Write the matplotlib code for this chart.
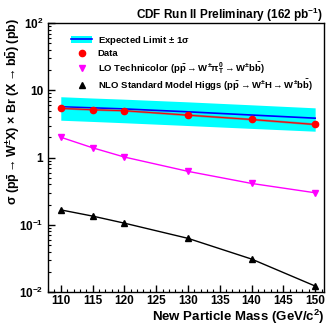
import matplotlib
matplotlib.use('Agg')
import matplotlib.pyplot as plt
from matplotlib.patches import Patch
from matplotlib.lines import Line2D
from matplotlib.ticker import FixedLocator, FixedFormatter, MultipleLocator, LogLocator, NullFormatter

plt.rcParams['font.family'] = ['Liberation Sans', 'DejaVu Sans']
plt.rcParams['font.weight'] = 'bold'
plt.rcParams['mathtext.fontset'] = 'custom'
plt.rcParams['mathtext.rm'] = 'Liberation Sans:bold'
plt.rcParams['mathtext.bf'] = 'Liberation Sans:bold'
plt.rcParams['mathtext.it'] = 'Liberation Sans:bold:italic'
plt.rcParams['mathtext.sf'] = 'Liberation Sans:bold'
plt.rcParams['mathtext.default'] = 'bf'

# masses (GeV/c^2)
mass = [110, 115, 120, 130, 140, 150]

# cross section x Br limits (pb)
data_limit = [5.4, 5.15, 4.98, 4.28, 3.69, 3.11]
exp_limit = [5.7, 5.5, 5.3, 4.8, 4.3, 3.86]
exp_up = [8.05, 7.7, 7.4, 6.75, 6.1, 5.5]
exp_down = [3.6, 3.45, 3.3, 3.0, 2.72, 2.47]

# theory predictions (pb)
technicolor = [2.01, 1.40, 1.02, 0.625, 0.413, 0.30]
higgs = [0.167, 0.135, 0.106, 0.063, 0.031, 0.0123]

ytick_vals = [0.01, 0.1, 1, 10, 100]
ytick_labels = ['$10^{-2}$', '$10^{-1}$', '1', '10', '$10^{2}$']

fig = plt.figure(figsize=(3.27, 3.26), dpi=100)
ax = fig.add_axes([0.147, 0.104, 0.844, 0.825])

ax.fill_between(mass, exp_down, exp_up, color='#00ffff', lw=0, zorder=1)
ax.plot(mass, exp_limit, color='#0000ff', lw=1.2, zorder=2)
ax.plot(mass, data_limit, color='#808080', lw=1.6, zorder=3)
ax.plot(mass, data_limit, color='#ff0000', lw=0.7, marker='o', ms=4.5, zorder=4)
ax.plot(mass, technicolor, color='#ff00ff', lw=1.0, marker='v', ms=4, zorder=4)
ax.plot(mass, higgs, color='black', lw=1.0, marker='^', ms=4, zorder=4)

ax.set_yscale('log')
ax.set_ylim(0.01, 100)
ax.set_xlim(108, 151.4)

ax.yaxis.set_major_locator(FixedLocator(ytick_vals))
ax.yaxis.set_major_formatter(FixedFormatter(ytick_labels))
ax.yaxis.set_minor_locator(LogLocator(base=10, subs=range(2, 10)))
ax.yaxis.set_minor_formatter(NullFormatter())
ax.xaxis.set_major_locator(MultipleLocator(5))
ax.xaxis.set_minor_locator(MultipleLocator(1))

ax.tick_params(which='both', direction='in', top=False, right=False, labelsize=8.5)
ax.tick_params(which='major', length=5, width=1)
ax.tick_params(which='minor', length=2.5, width=0.8)
ax.tick_params(axis='x', pad=2)
for s in ax.spines.values():
    s.set_linewidth(1.0)

# axis titles in ROOT style: aligned to the far end of each axis
fig.text(0.994, 0.014, 'New Particle Mass (GeV/$c^{2}$)', ha='right', va='baseline',
         fontsize=9.5, fontweight='bold')
fig.text(0.04, 0.945, r'$\sigma$ ($p\bar{p}\rightarrow W^{\pm}X$) $\times$ Br (X$\rightarrow b\bar{b}$) (pb)',
         rotation=90, rotation_mode='anchor', ha='right', va='center',
         fontsize=9, fontweight='bold')

fig.text(0.988, 0.955, 'CDF Run II Preliminary (162 pb$^{-1}$)', ha='right', va='center',
         fontsize=8.5, fontweight='bold')

handles = [
    (Patch(facecolor='#00ffff', edgecolor='none'), Line2D([], [], color='#0000ff', lw=1.2)),
    Line2D([], [], color='#ff0000', marker='o', ms=4.5, ls='none'),
    Line2D([], [], color='#ff00ff', marker='v', ms=4, ls='none'),
    Line2D([], [], color='black', marker='^', ms=4, ls='none'),
]
labels = [
    r'Expected Limit $\pm$ 1$\sigma$',
    'Data',
    r'LO Technicolor ($p\bar{p}\rightarrow W^{\pm}\pi_{T}^{0}\rightarrow W^{\pm}b\bar{b}$)',
    r'NLO Standard Model Higgs ($p\bar{p}\rightarrow W^{\pm}H\rightarrow W^{\pm}b\bar{b}$)',
]
ax.legend(handles, labels, loc='upper left', bbox_to_anchor=(0.06, 0.985), frameon=False,
          fontsize=6.8, handlelength=2.2, handletextpad=0.6, labelspacing=0.22, borderpad=0.2)

fig.savefig('out.png', dpi=100)
